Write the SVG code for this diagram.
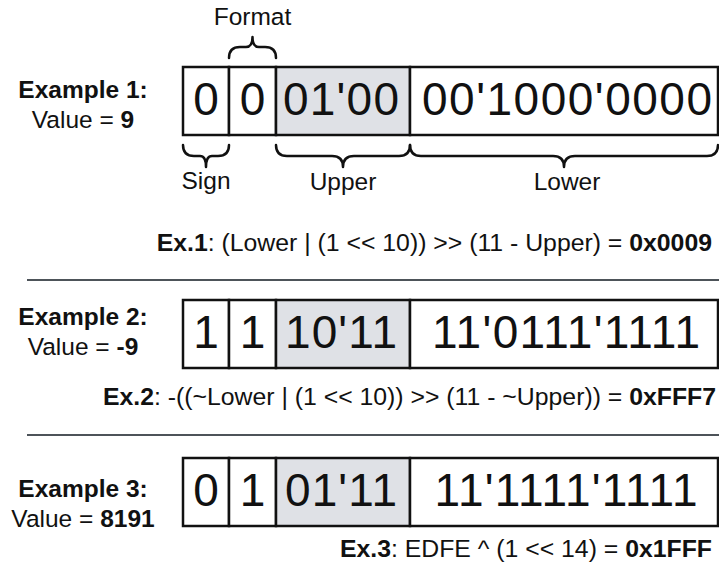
<svg xmlns="http://www.w3.org/2000/svg" width="719" height="569" viewBox="0 0 719 569">
  <style>
    text { font-family: "Liberation Sans", Arial, sans-serif; fill: #111; }
    .lbl { font-size: 24.5px; text-anchor: middle; }
    .ex { font-size: 24.5px; text-anchor: middle; }
    .b { font-weight: bold; }
    .f { font-size: 24.8px; text-anchor: end; }
    .big { font-size: 46px; text-anchor: middle; }
    .cell { fill: #fff; stroke: #111; stroke-width: 2.5; }
    .shade { fill: #dfe1e6; stroke: #111; stroke-width: 2.5; }
    .brace { fill: none; stroke: #111; stroke-width: 2.5; stroke-linejoin: round; stroke-linecap: round; }
    .sep { stroke: #4d5359; stroke-width: 2; }
  </style>

  <!-- Example 1 -->
  <g id="example1">
    <text class="ex b" x="83" y="98">Example 1:</text>
    <text class="ex" x="83" y="128">Value = <tspan class="b">9</tspan></text>
    <rect class="cell" x="183" y="67" width="46" height="68"/>
    <rect class="cell" x="229" y="67" width="47" height="68"/>
    <rect class="shade" x="276" y="67" width="134" height="68"/>
    <rect class="cell" x="410" y="67" width="308" height="68"/>
    <text class="big" x="206" y="115">0</text>
    <text class="big" x="252.5" y="115">0</text>
    <text class="big" x="341" y="115" textLength="116" lengthAdjust="spacing">01'00</text>
    <text class="big" x="567" y="115" textLength="290" lengthAdjust="spacing">00'1000'0000</text>
    <text class="lbl" x="252.5" y="25">Format</text>
    <text class="lbl" x="206" y="189">Sign</text>
    <text class="lbl" x="343" y="190">Upper</text>
    <text class="lbl" x="567" y="190">Lower</text>
    <text class="f" x="712" y="251"><tspan class="b">Ex.1</tspan>: (Lower | (1 &lt;&lt; 10)) &gt;&gt; (11 - Upper) = <tspan class="b">0x0009</tspan></text>
  </g>

  <!-- field braces -->
  <g id="braces">
    <path class="brace" d="M229,58 Q229,47 240,47 L246,47 Q252.5,47 252.5,37 Q252.5,47 259,47 L265,47 Q276,47 276,58"/>
    <path class="brace" d="M183,145 Q183,156 194,156 L200,156 Q206,156 206,167 Q206,156 212,156 L218,156 Q229,156 229,145"/>
    <path class="brace" d="M276,145 Q276,156 287,156 L332,156 Q343,156 343,167 Q343,156 354,156 L399,156 Q410,156 410,145"/>
    <path class="brace" d="M410,145 Q410,156 421,156 L553,156 Q564,156 564,167 Q564,156 575,156 L707,156 Q718,156 718,145"/>
  </g>

  <line class="sep" x1="27" y1="280" x2="719" y2="280"/>

  <!-- Example 2 -->
  <g id="example2">
    <text class="ex b" x="83" y="325">Example 2:</text>
    <text class="ex" x="83" y="355">Value = <tspan class="b">-9</tspan></text>
    <rect class="cell" x="183" y="300" width="46" height="68"/>
    <rect class="cell" x="229" y="300" width="47" height="68"/>
    <rect class="shade" x="276" y="300" width="134" height="68"/>
    <rect class="cell" x="410" y="300" width="308" height="68"/>
    <text class="big" x="206" y="348">1</text>
    <text class="big" x="252.5" y="348">1</text>
    <text class="big" x="341" y="348" textLength="112" lengthAdjust="spacing">10'11</text>
    <text class="big" x="566" y="348" textLength="268" lengthAdjust="spacing">11'0111'1111</text>
    <text class="f" x="716" y="405"><tspan class="b">Ex.2</tspan>: -((~Lower | (1 &lt;&lt; 10)) &gt;&gt; (11 - ~Upper)) = <tspan class="b">0xFFF7</tspan></text>
  </g>

  <line class="sep" x1="27" y1="435" x2="719" y2="435"/>

  <!-- Example 3 -->
  <g id="example3">
    <text class="ex b" x="83" y="497">Example 3:</text>
    <text class="ex" x="83" y="527">Value = <tspan class="b">8191</tspan></text>
    <rect class="cell" x="183" y="458" width="46" height="68"/>
    <rect class="cell" x="229" y="458" width="47" height="68"/>
    <rect class="shade" x="276" y="458" width="134" height="68"/>
    <rect class="cell" x="410" y="458" width="308" height="68"/>
    <text class="big" x="206" y="506">0</text>
    <text class="big" x="252.5" y="506">1</text>
    <text class="big" x="341" y="506" textLength="112" lengthAdjust="spacing">01'11</text>
    <text class="big" x="566" y="506" textLength="263" lengthAdjust="spacing">11'1111'1111</text>
    <text class="f" x="712" y="557"><tspan class="b">Ex.3</tspan>: EDFE ^ (1 &lt;&lt; 14) = <tspan class="b">0x1FFF</tspan></text>
  </g>
</svg>
